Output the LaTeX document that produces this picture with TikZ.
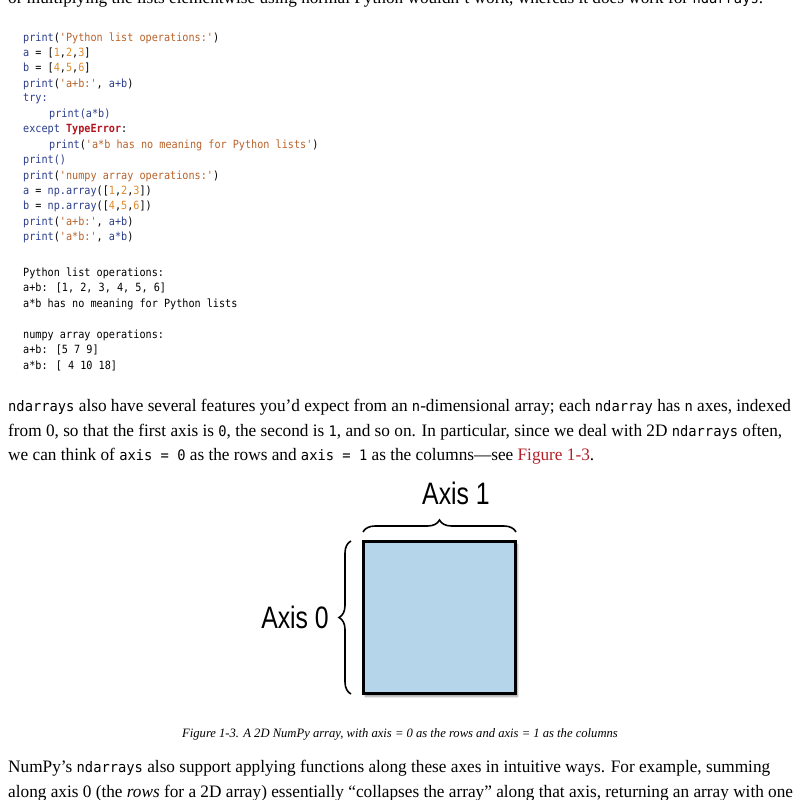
\documentclass[tikz,border=0pt]{standalone}
\usepackage{fontspec}
\setmainfont[FakeStretch=0.985]{Liberation Serif}
\newfontfamily\codefont[FakeStretch=0.9]{DejaVu Sans Mono}
\newfontfamily\icode[FakeStretch=0.95]{DejaVu Sans Mono}
\newfontfamily\axfont[FakeStretch=0.8]{Liberation Sans}
\usetikzlibrary{decorations.pathreplacing,shadows.blur}
\definecolor{kw}{HTML}{2B3D8C}
\definecolor{str}{HTML}{B8622A}
\definecolor{num}{HTML}{E08A2A}
\definecolor{err}{HTML}{B3141E}
\definecolor{fill}{HTML}{B4D5EA}
\definecolor{link}{HTML}{B3202A}
\newcommand{\K}[1]{\textcolor{kw}{#1}}
\newcommand{\St}[1]{\textcolor{str}{#1}}
\newcommand{\N}[1]{\textcolor{num}{#1}}
\newcommand{\ic}[1]{{\icode\fontsize{14.5}{16}\selectfont #1}}
\begin{document}
\begin{tikzpicture}[x=1pt,y=-1pt,
  code/.style={anchor=west,inner sep=0,font=\codefont\fontsize{11.3}{12}\selectfont},
  body/.style={anchor=west,inner sep=0,font=\fontsize{17.5}{20}\selectfont},
  ax/.style={inner sep=0,font=\axfont\fontsize{31}{32}\selectfont}]
\useasboundingbox (0,0) rectangle (800,800);
\clip (0,0) rectangle (800,800);
\node[body] (t0) at (8,-1) {or multiplying the lists elementwise using normal Python wouldn't work, whereas it does work for \ic{ndarrays}.};
% code
\node[code] (c1) at (23,38) {\K{print}(\St{'Python list operations:'})};
\node[code] (c2) at (23,53) {\K{a} = [\N{1},\N{2},\N{3}]};
\node[code] (c3) at (23,68) {\K{b} = [\N{4},\N{5},\N{6}]};
\node[code] (c4) at (23,84) {\K{print}(\St{'a+b:'}, \K{a+b})};
\node[code] (c5) at (23,99) {\K{try:}};
\node[code] (c6) at (49,114) {\K{print(a*b)}};
\node[code] (c7) at (23,130) {\K{except} \textcolor{err}{\textbf{TypeError}}:};
\node[code] (c8) at (49,145) {\K{print}(\St{'a*b has no meaning for Python lists'})};
\node[code] (c9) at (23,160) {\K{print()}};
\node[code] (c10) at (23,176) {\K{print}(\St{'numpy array operations:'})};
\node[code] (c11) at (23,191) {\K{a} = \K{np.array}([\N{1},\N{2},\N{3}])};
\node[code] (c12) at (23,206) {\K{b} = \K{np.array}([\N{4},\N{5},\N{6}])};
\node[code] (c13) at (23,222) {\K{print}(\St{'a+b:'}, \K{a+b})};
\node[code] (c14) at (23,237) {\K{print}(\St{'a*b:'}, \K{a*b})};
\node[code] (o1) at (23,273) {Python list operations:};
\node[code] (o2) at (23,288) {a+b: [1, 2, 3, 4, 5, 6]};
\node[code] (o3) at (23,304) {a*b has no meaning for Python lists};
\node[code] (o4) at (23,335) {numpy array operations:};
\node[code] (o5) at (23,350) {a+b: [5 7 9]};
\node[code] (o6) at (23,366) {a*b: [ 4 10 18]};
% body
\node[body] (p1) at (8,407) {\ic{ndarrays} also have several features you'd expect from an \ic{n}-dimensional array; each \ic{ndarray} has \ic{n} axes, indexed};
\node[body] (p2) at (8,432) {from 0, so that the first axis is \ic{0}, the second is \ic{1}, and so on. In particular, since we deal with 2D \ic{ndarrays} often,};
\node[body] (p3) at (8,456) {we can think of \ic{axis = 0} as the rows and \ic{axis = 1} as the columns---see \textcolor{link}{Figure 1-3}.};
% figure
\node[draw=black,line width=2.6pt,fill=fill,minimum size=152pt,inner sep=0,blur shadow={shadow xshift=2pt,shadow yshift=-3pt,shadow blur steps=8}] (sq) at (439.5,617.5) {};
\draw[line width=1.6pt,decorate,decoration={brace,amplitude=12pt}] (363,532) -- (516,532);
\draw[line width=1.6pt,decorate,decoration={brace,amplitude=12pt}] (351,694) -- (351,541);
\node[ax] (a1) at (456,493) {Axis 1};
\node[ax,anchor=east] (a0) at (329,617) {Axis 0};
\node[inner sep=0,font=\itshape\fontsize{12.8}{14}\selectfont] (cap) at (400,734) {Figure 1-3. A 2D NumPy array, with axis = 0 as the rows and axis = 1 as the columns};
\node[body] (q1) at (8,768) {NumPy's \ic{ndarrays} also support applying functions along these axes in intuitive ways. For example, summing};
\node[body] (q2) at (8,793) {along axis 0 (the \textit{rows} for a 2D array) essentially ``collapses the array'' along that axis, returning an array with one};
\end{tikzpicture}
\end{document}
